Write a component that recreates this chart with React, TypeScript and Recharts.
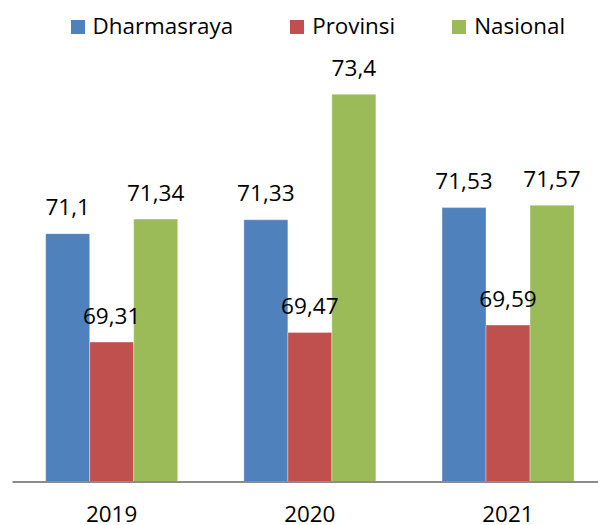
import { BarChart, Bar, XAxis, YAxis, LabelList } from 'recharts';

const YEARS = ['2019', '2020', '2021'];
const DHARMASRAYA = [71.1, 71.33, 71.53];
const PROVINSI = [69.31, 69.47, 69.59];
const NASIONAL = [71.34, 73.4, 71.57];

const SERIES = [
  { key: 'Dharmasraya', color: '#4f81bd' },
  { key: 'Provinsi', color: '#c0504d' },
  { key: 'Nasional', color: '#9bbb59' },
];

const FONT = '"Open Sans", sans-serif';

const rows = YEARS.map((year, i) => ({
  year,
  Dharmasraya: DHARMASRAYA[i],
  Provinsi: PROVINSI[i],
  Nasional: NASIONAL[i],
}));

// angka pakai koma desimal seperti aslinya
const fmt = (v: unknown) => String(v).replace('.', ',');

function LegendRow() {
  return (
    <div
      style={{
        position: 'absolute',
        left: 70.5,
        top: 11,
        display: 'flex',
        alignItems: 'center',
        gap: 57,
        fontFamily: FONT,
        fontSize: 22.4,
        lineHeight: '30px',
        color: '#000',
      }}
    >
      {SERIES.map((s) => (
        <div key={s.key} style={{ display: 'flex', alignItems: 'center' }}>
          <span style={{ width: 14, height: 14, background: s.color, marginRight: 8, marginTop: 1 }} />
          <span>{s.key}</span>
        </div>
      ))}
    </div>
  );
}

export default function App() {
  return (
    <div style={{ position: 'absolute', left: 0, top: 0, width: 598, height: 525, overflow: 'hidden', background: '#fff' }}>
      <BarChart
        width={607}
        height={525}
        data={rows}
        margin={{ top: 58, right: 0, bottom: 0, left: 12.5 }}
        barCategoryGap="16.75%"
        barGap={0}
      >
        <XAxis
          dataKey="year"
          height={43}
          tickSize={0}
          tickMargin={24}
          axisLine={{ stroke: '#8c8c8c', strokeWidth: 2 }}
          tick={{ fontSize: 22.4, fill: '#000', fontFamily: FONT }}
        />
        <YAxis hide domain={[67, 74]} allowDataOverflow />
        {SERIES.map((s) => (
          <Bar
            key={s.key}
            dataKey={s.key}
            fill={s.color}
            stroke="#ffffff"
            strokeOpacity={0.45}
            strokeWidth={0.75}
            isAnimationActive={false}
          >
            <LabelList
              dataKey={s.key}
              position="top"
              offset={18.5}
              formatter={fmt}
              style={{ fontSize: 22.6, fill: '#000', fontFamily: FONT }}
            />
          </Bar>
        ))}
      </BarChart>
      <LegendRow />
    </div>
  );
}
